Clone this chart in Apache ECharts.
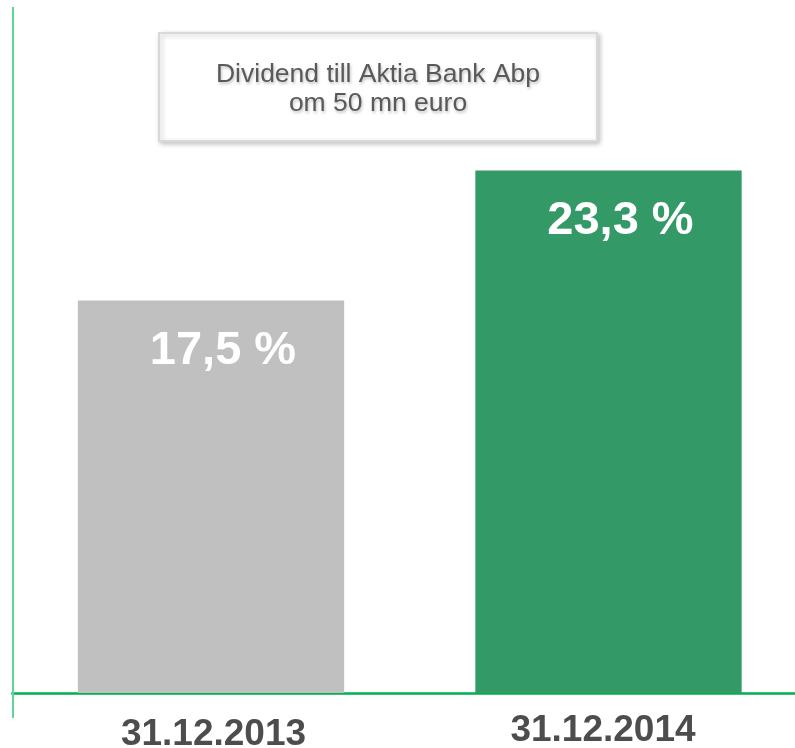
<!DOCTYPE html>
<html>
<head>
<meta charset="utf-8">
<script src="https://cdn.jsdelivr.net/npm/echarts@6/dist/echarts.min.js"></script>
<style>
html,body{margin:0;padding:0;background:#fff;overflow:hidden;width:795px;height:748px;}
#chart{width:820px;height:748px;}
</style>
</head>
<body>
<div id="chart"></div>
<script>
var categories = ['31.12.2013', '31.12.2014'];
var values = [17.5, 23.3];
var barColors = ['#C0C0C0', '#339966'];
var noteLines = ['Dividend till Aktia Bank Abp', 'om 50 mn euro'];

var FONT = 'Arial, "Liberation Sans", sans-serif';
var chart = echarts.init(document.getElementById('chart'), null, {renderer: 'canvas'});

var seriesData = values.map(function (v, i) {
  return {
    value: v,
    itemStyle: {color: barColors[i]}
  };
});

var catTextBase = {
  fontFamily: FONT,
  fontSize: 37,
  fontWeight: 'bold',
  color: '#4D4D4D'
};

var option = {
  backgroundColor: '#ffffff',
  animation: false,
  grid: {left: 12.25, top: 9, width: 795, height: 684, containLabel: false, outerBoundsMode: 'none'},
  xAxis: {
    type: 'category',
    data: categories,
    axisLine: {show: true, lineStyle: {color: '#00B050', width: 2.5}},
    axisTick: {show: false},
    axisLabel: {
      show: true,
      margin: 19,
      formatter: function (val, idx) {
        return '{c' + idx + '|' + val + '}';
      },
      rich: {
        c0: Object.assign({padding: [4, 0, 0, 5]}, catTextBase),
        c1: Object.assign({padding: [0, 11, 4, 0]}, catTextBase)
      }
    },
    splitLine: {show: false}
  },
  yAxis: {
    type: 'value',
    min: 0,
    max: 30.5,
    axisLine: {show: false},
    axisTick: {show: false},
    axisLabel: {show: false},
    splitLine: {show: false}
  },
  series: [{
    type: 'bar',
    data: seriesData,
    barCategoryGap: '33%',
    label: {
      show: true,
      position: 'insideTop',
      distance: 0,
      offset: [12, 27],
      fontFamily: FONT,
      fontSize: 47,
      fontWeight: 'bold',
      color: '#ffffff',
      formatter: function (p) {
        return String(p.value).replace('.', ',') + ' %';
      }
    }
  }],
  graphic: [
    {
      type: 'line',
      shape: {x1: 13, y1: 7, x2: 13, y2: 718},
      style: {stroke: '#5CD894', lineWidth: 2},
      z: 1
    },
    {
      type: 'rect',
      shape: {x: 159, y: 33, width: 438, height: 108},
      style: {
        fill: '#ffffff',
        stroke: '#D9D9D9',
        lineWidth: 2,
        shadowBlur: 5,
        shadowOffsetX: 2,
        shadowOffsetY: 2,
        shadowColor: 'rgba(0,0,0,0.22)'
      },
      z: 10
    },
    {
      type: 'text',
      x: 378,
      y: 89,
      style: {
        text: noteLines.join('\n'),
        fontFamily: FONT,
        fontSize: 26.5,
        lineHeight: 29,
        fill: '#595959',
        align: 'center',
        verticalAlign: 'middle',
        textShadowColor: 'rgba(0,0,0,0.25)',
        textShadowBlur: 3,
        textShadowOffsetX: 1,
        textShadowOffsetY: 2
      },
      z: 11
    }
  ]
};
chart.setOption(option);
</script>
</body>
</html>
